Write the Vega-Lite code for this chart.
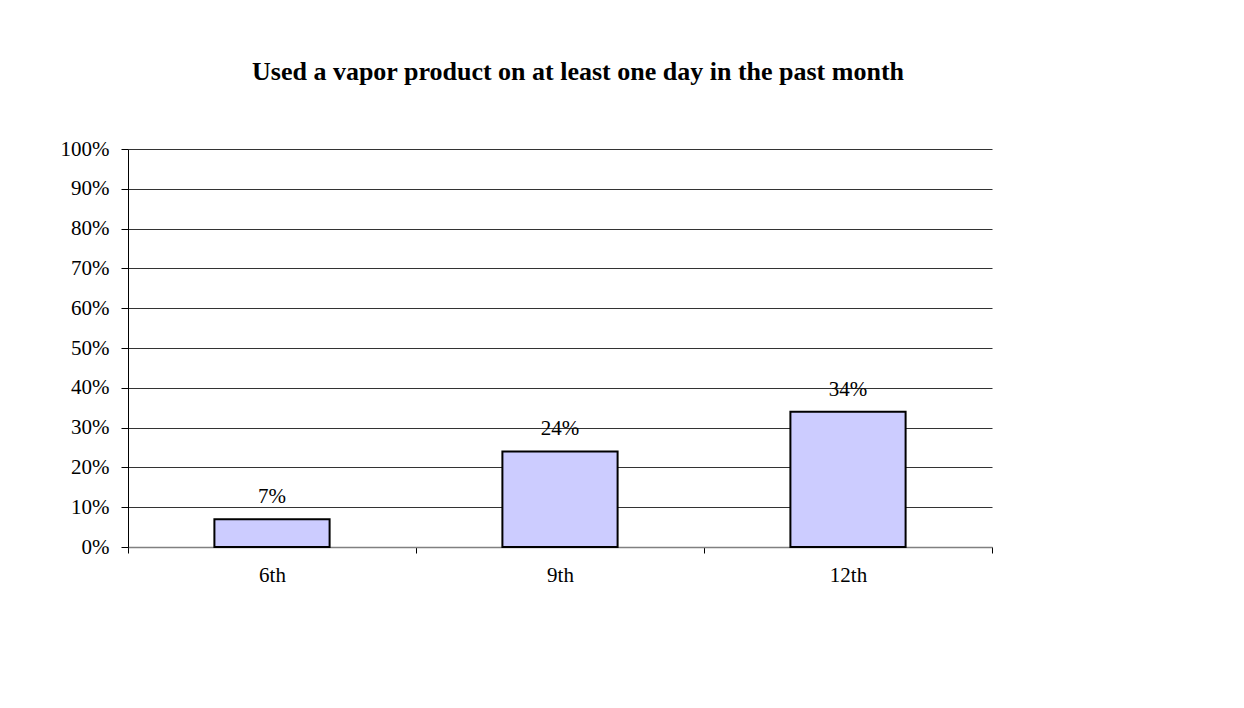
{
  "$schema": "https://vega.github.io/schema/vega-lite/v6.json",
  "autosize": "none",
  "width": 864,
  "height": 398,
  "padding": {"left": 128, "top": 149, "right": 252, "bottom": 161},
  "background": "white",
  "config": {
    "font": "Liberation Serif",
    "view": {"stroke": null}
  },
  "title": {
    "text": "Used a vapor product on at least one day in the past month",
    "font": "Liberation Serif",
    "fontSize": 26,
    "fontWeight": "bold",
    "color": "black",
    "anchor": "middle",
    "dx": 18,
    "offset": 53
  },
  "data": {
    "values": [
      {"grade": "6th", "value": 0.07},
      {"grade": "9th", "value": 0.24},
      {"grade": "12th", "value": 0.34}
    ]
  },
  "encoding": {
    "x": {
      "field": "grade",
      "type": "nominal",
      "sort": ["6th", "9th", "12th"],
      "scale": {"paddingInner": 0, "paddingOuter": 0},
      "axis": {
        "title": null,
        "labelAngle": 0,
        "labelFont": "Liberation Serif",
        "labelFontSize": 21,
        "labelColor": "black",
        "labelPadding": 11,
        "tickBand": "extent",
        "tickSize": 6,
        "tickColor": "black",
        "domainColor": "#808080",
        "domainWidth": 1.5
      }
    },
    "y": {
      "field": "value",
      "type": "quantitative",
      "scale": {"domain": [0, 1]},
      "axis": {
        "title": null,
        "format": ".0%",
        "values": [0, 0.1, 0.2, 0.3, 0.4, 0.5, 0.6, 0.7, 0.8, 0.9, 1],
        "labelFont": "Liberation Serif",
        "labelFontSize": 21,
        "labelColor": "black",
        "labelPadding": 12,
        "tickSize": 7,
        "tickColor": "black",
        "domainColor": "black",
        "grid": true,
        "gridColor": "#333333",
        "gridWidth": 1.2
      }
    }
  },
  "layer": [
    {
      "mark": {"type": "bar", "width": {"band": 0.4}, "fill": "#CCCCFF", "stroke": "black", "strokeWidth": 2}
    },
    {
      "mark": {"type": "text", "baseline": "bottom", "dy": -12, "fontSize": 21, "font": "Liberation Serif", "color": "black"},
      "encoding": {
        "text": {"field": "value", "type": "quantitative", "format": ".0%"}
      }
    }
  ]
}
